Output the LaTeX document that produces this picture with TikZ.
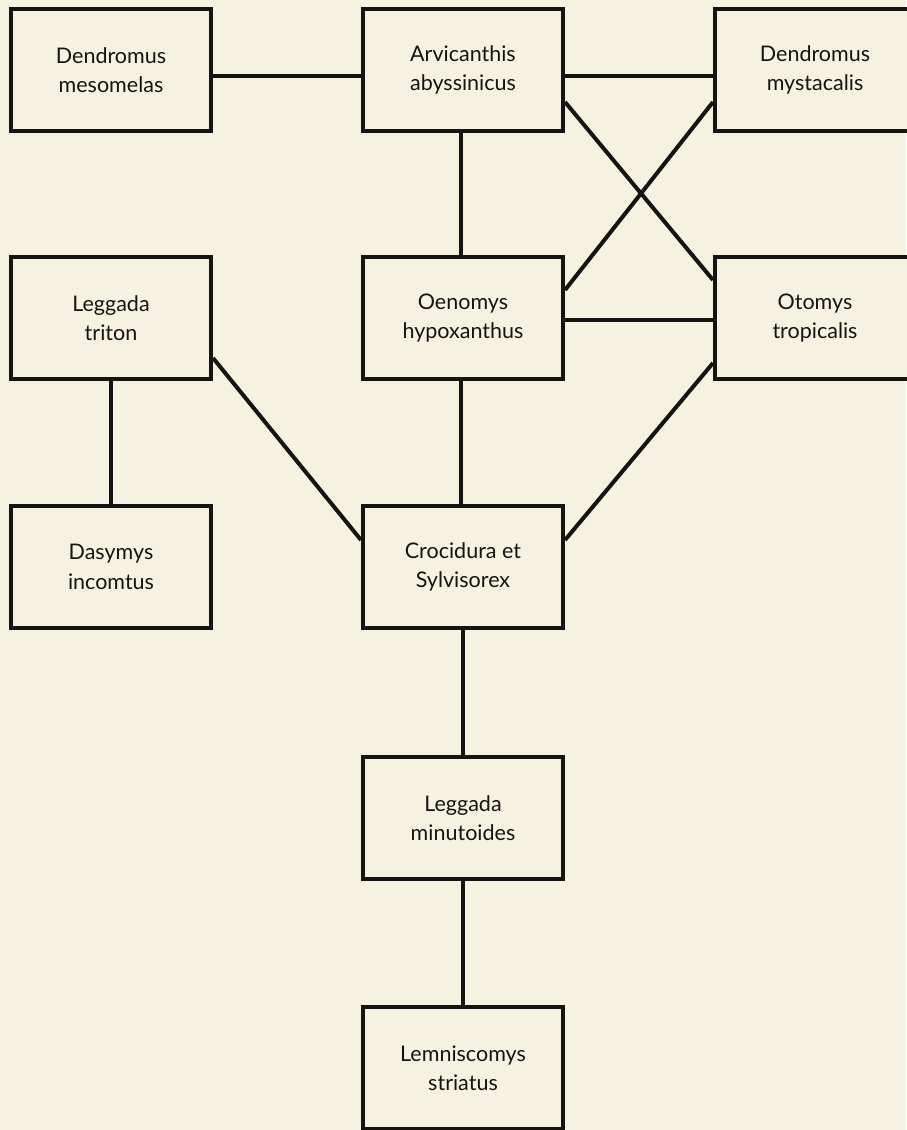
\documentclass[tikz,border=0pt]{standalone}
\usepackage{fontspec}
\setmainfont{Lato}
\usetikzlibrary{calc}
\definecolor{paper}{RGB}{246,242,226}
\definecolor{ink}{RGB}{22,20,18}
\begin{document}
\begin{tikzpicture}[x=1pt,y=-1pt,
  taxon/.style={draw=ink, line width=4pt, fill=paper, minimum width=200pt, minimum height=122pt,
    inner sep=0pt, align=center, text=ink, font=\fontsize{21.5}{29.5}\selectfont},
  link/.style={draw=ink, line width=4pt}]
\fill[paper] (0,0) rectangle (906,1130);
\useasboundingbox (0,0) rectangle (906,1130);
\node[taxon] (mes) at (111,70) {Dendromus\\mesomelas};
\node[taxon] (arv) at (463,70) {Arvicanthis\\abyssinicus};
\node[taxon] (mys) at (815,70) {Dendromus\\mystacalis};
\node[taxon] (tri) at (111,318) {Leggada\\triton};
\node[taxon] (oen) at (463,318) {Oenomys\\hypoxanthus};
\node[taxon] (oto) at (815,318) {Otomys\\tropicalis};
\node[taxon] (das) at (111,567) {Dasymys\\incomtus};
\node[taxon] (cro) at (463,567) {Crocidura et\\Sylvisorex};
\node[taxon] (min) at (463,818) {Leggada\\minutoides};
\node[taxon] (lem) at (463,1068) {Lemniscomys\\striatus};
\draw[link] ([yshift=-6pt]mes.east) -- ([yshift=-6pt]arv.west);
\draw[link] ([yshift=-6pt]arv.east) -- ([yshift=-6pt]mys.west);
\draw[link] ([xshift=-2pt]arv.south) -- ([xshift=-2pt]oen.north);
\draw[link] ([yshift=-32pt]arv.east) -- ([yshift=38pt]oto.west);
\draw[link] ([yshift=-32pt]mys.west) -- ([yshift=28pt]oen.east);
\draw[link] ([yshift=-2pt]oen.east) -- ([yshift=-2pt]oto.west);
\draw[link] ([xshift=-2pt]oen.south) -- ([xshift=-2pt]cro.north);
\draw[link] ([yshift=-40pt]tri.east) -- ([yshift=27pt]cro.west);
\draw[link] ([yshift=-45pt]oto.west) -- ([yshift=27pt]cro.east);
\draw[link] (tri.south) -- (das.north);
\draw[link] (cro.south) -- (min.north);
\draw[link] (min.south) -- (lem.north);
\end{tikzpicture}
\end{document}
